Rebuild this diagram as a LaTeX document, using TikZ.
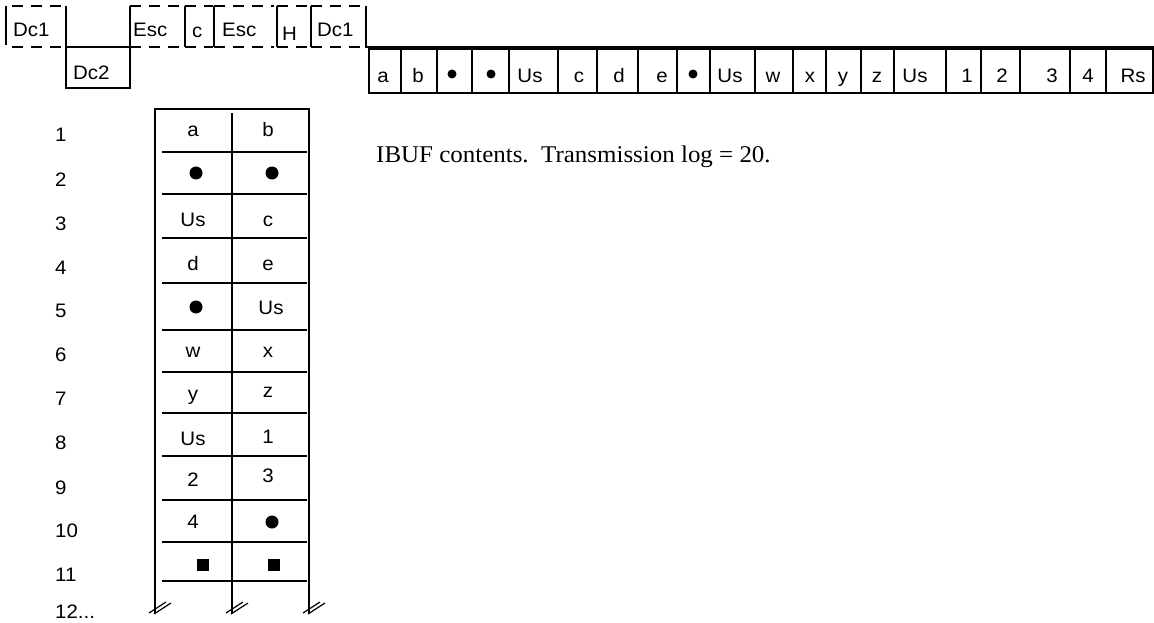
\documentclass[tikz,border=0pt]{standalone}
\usepackage{fontspec}
\setmainfont{Liberation Serif}
\newfontfamily\lblfont{Liberation Sans}[FakeStretch=1.05]
\newfontfamily\capfont{Liberation Serif}[FakeStretch=1.04]
\tikzset{
  wire/.style={line width=1.6pt},
  dashwire/.style={line width=1.6pt, dash pattern=on 11pt off 8pt},
  slash/.style={line width=1.2pt},
  lbl/.style={font=\lblfont\fontsize{19.5}{19.5}\selectfont, anchor=base, inner sep=0pt},
  rowlbl/.style={lbl, anchor=base west},
  bigdot/.style={circle, fill, inner sep=0pt, minimum size=13pt},
  smalldot/.style={circle, fill, inner sep=0pt, minimum size=9pt},
  sqmark/.style={rectangle, fill, inner sep=0pt, minimum size=12pt},
}
\begin{document}
\begin{tikzpicture}[x=1pt,y=-1pt]
\useasboundingbox (0,0) rectangle (1154,623);

% --- control sequence along the top: dashed high/low levels ---
\foreach \a/\b in {12/63, 130/183, 185/213, 214/274, 277/310, 311/362}{
  \draw[dashwire] (\a,6) -- (\b,6);
  \draw[dashwire] (\a,47) -- (\b,47);
}
\draw[wire] (6,6) -- (6,45);
\foreach \x in {185,214,277,311}{ \draw[wire] (\x,6) -- (\x,47); }
\draw[wire] (66,6) -- (66,88) -- (130,88) -- (130,6);
\draw[wire] (66,47) -- (130,47);
\draw[wire] (366,6) -- (366,47) -- (1154,47);

\node[rowlbl] (t1) at (13,37) {Dc1};
\node[rowlbl] (t2) at (73,80) {Dc2};
\node[rowlbl] (t3) at (133,37) {Esc};
\node[rowlbl] (t4) at (192,38) {c};
\node[rowlbl] (t5) at (222,37) {Esc};
\node[rowlbl] (t6) at (282,41) {H};
\node[rowlbl] (t7) at (317,37) {Dc1};

% --- received character string ---
\draw[wire] (369,49) rectangle (1153,93);
\foreach \x in {401,437,472,509,558,597,638,677,710,755,793,826,861,894,946,981,1020,1070,1106}{
  \draw[wire] (\x,49) -- (\x,93);
}
\foreach \x/\t [count=\i] in {383/a, 418/b, 530/Us, 579/c, 619/d, 662/e, 730/Us,
    773/w, 810/x, 843/y, 877/z, 915/Us, 967/1, 1002/2, 1052/3, 1088/4, 1133/Rs}{
  \node[lbl] (s\i) at (\x,83) {\t};
}
\node[smalldot] (sd1) at (452,74) {};
\node[smalldot] (sd2) at (491,74) {};
\node[smalldot] (sd3) at (693,74) {};

% --- IBUF table ---
\draw[wire] (155,613) -- (155,109) -- (309,109) -- (309,613);
\draw[wire] (232,113) -- (232,613);
\foreach \y in {152,194,238,283,330,372,413,456,500,542,581}{
  \draw[wire] (162,\y) -- (307,\y);
}
\foreach \x in {155,232,309}{
  \draw[slash] (\x-6,613) -- (\x+11,602);
  \draw[slash] (\x-1,614) -- (\x+16,603);
}
\foreach \y/\t [count=\i] in {142/1,186/2,230/3,274/4,317/5,361/6,405/7,449/8,494/9,537/10,581/11}{
  \node[rowlbl] (r\i) at (55,\y) {\t};
}
\node[rowlbl] (r12) at (55,618) {12...};
% cell contents
\node[lbl] (c1a) at (193,137) {a};
\node[lbl] (c1b) at (268,137) {b};
\node[bigdot] (c2a) at (196,173) {};
\node[bigdot] (c2b) at (272,173) {};
\node[lbl] (c3a) at (193,226) {Us};
\node[lbl] (c3b) at (268,226) {c};
\node[lbl] (c4a) at (193,270) {d};
\node[lbl] (c4b) at (268,270) {e};
\node[bigdot] (c5a) at (196,307) {};
\node[lbl] (c5b) at (271,314) {Us};
\node[lbl] (c6a) at (193,357) {w};
\node[lbl] (c6b) at (268,357) {x};
\node[lbl] (c7a) at (193,400) {y};
\node[lbl] (c7b) at (268,397) {z};
\node[lbl] (c8a) at (193,445) {Us};
\node[lbl] (c8b) at (268,443) {1};
\node[lbl] (c9a) at (193,486) {2};
\node[lbl] (c9b) at (268,482) {3};
\node[lbl] (c10a) at (193,528) {4};
\node[bigdot] (c10b) at (272,522) {};
\node[sqmark] (c11a) at (203,565) {};
\node[sqmark] (c11b) at (274,565) {};

% --- caption ---
\node[anchor=base west, inner sep=0pt, font=\capfont\fontsize{24}{24}\selectfont] (cap) at (376,163)
  {IBUF contents.\ \ Transmission log = 20.};
\end{tikzpicture}
\end{document}
